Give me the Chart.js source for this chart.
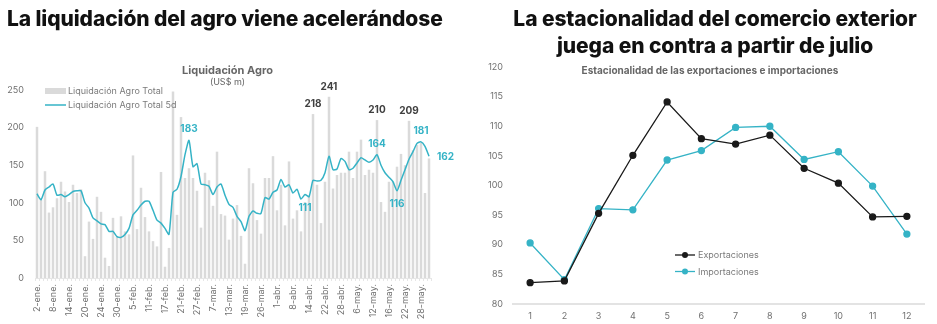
<!DOCTYPE html>
<html>
<head>
<meta charset="utf-8">
<script src="https://cdn.jsdelivr.net/npm/chart.js@4"></script>
<style>
  body { margin: 0; background: #fff; font-family: "Inter", sans-serif; }
  #wrap { position: relative; width: 937px; height: 324px; overflow: hidden; }
  .big { position: absolute; font-weight: 800; font-size: 21px; color: #111; line-height: 27px; letter-spacing: -0.1px; }
  .sub { position: absolute; font-weight: 700; color: #666; text-align: center; }
  canvas { position: absolute; top: 0; }
</style>
</head>
<body>
<div id="wrap">
  <canvas id="agroChart" width="460" height="324" style="left:0"></canvas>
  <canvas id="seasonChart" width="467" height="324" style="left:470px"></canvas>
  <div class="big" style="left:7px; top:5px;">La liquidación del agro viene acelerándose</div>
  <div class="big" style="left:460px; width:510px; top:5px; text-align:center;">La estacionalidad del comercio exterior<br>juega en contra a partir de julio</div>
  <div class="sub" style="left:170px; width:115px; top:63px; font-size:11px;">Liquidación Agro</div>
  <div class="sub" style="left:170px; width:115px; top:76px; font-size:9px; font-weight:400;">(US$ m)</div>
  <div class="sub" style="left:560px; width:300px; top:64px; font-size:10px;">Estacionalidad de las exportaciones e importaciones</div>
</div>
<script>
// Left chart: daily agro liquidation (US$ m)
const tickLabels = ["2-ene.", "8-ene.", "14-ene.", "20-ene.", "24-ene.", "30-ene.", "5-feb.", "11-feb.",
  "17-feb.", "21-feb.", "27-feb.", "7-mar.", "13-mar.", "19-mar.", "26-mar.", "1-abr.", "8-abr.",
  "14-abr.", "22-abr.", "28-abr.", "6-may.", "12-may.", "16-may.", "22-may.", "28-may."];

const agroTotal = [
  201, 104, 142, 87, 94, 106, 128, 115, 101, 124,
  113, 118, 29, 75, 52, 108, 88, 27, 16, 80,
  55, 82, 62, 58, 163, 65, 120, 81, 62, 49,
  42, 141, 15, 40, 248, 84, 214, 133, 146, 133,
  116, 67, 140, 130, 96, 168, 85, 83, 51, 79,
  97, 56, 19, 146, 126, 77, 59, 133, 133, 162,
  90, 124, 70, 155, 79, 90, 62, 101, 110, 218,
  124, 73, 128, 241, 119, 137, 140, 140, 168, 133,
  168, 184, 137, 144, 140, 210, 101, 88, 128, 128,
  148, 165, 150, 209, 170, 177, 180, 113, 159
];

const agroTotal5d = [
  112, 104, 117, 121, 125, 110, 111, 108, 111, 115,
  116, 116, 100, 93, 80, 76, 72, 71, 62, 62,
  55, 54, 58, 66, 84, 90, 97, 102, 102, 90,
  77, 73, 66, 58, 114, 118, 135, 164, 183, 148,
  152, 125, 124, 122, 111, 121, 125, 110, 98, 94,
  82, 75, 63, 82, 89, 86, 86, 107, 105, 114,
  117, 131, 121, 124, 113, 118, 105, 111, 108, 130,
  129, 130, 140, 162, 144, 145, 159, 155, 144, 146,
  153, 160, 157, 154, 157, 164, 150, 140, 134, 128,
  116, 130, 144, 158, 168, 179, 181, 175, 162
];

const barLabelIdx = [69, 73, 85, 93];
const lineLabelIdx = [38, 67, 85, 90, 96, 98];

// Right chart: seasonality index by month
const months = ["1", "2", "3", "4", "5", "6", "7", "8", "9", "10", "11", "12"];
const exportaciones = [83.6, 83.9, 95.3, 105.1, 114.1, 107.9, 107.0, 108.5, 102.9, 100.4, 94.7, 94.8];
const importaciones = [90.3, 84.1, 96.1, 95.9, 104.3, 105.9, 109.8, 110.0, 104.4, 105.7, 99.9, 91.8];

const TEAL = "#35b3c6";
const GREY_BAR = "#dadada";
const TXT = "#707070";

// one named label every 4 trading days
const categories = agroTotal.map((v, i) => (i % 4 === 0 ? tickLabels[i / 4] || "" : ""));

const lineLabelPlace = { 38: "above", 67: "below", 85: "above", 90: "below", 96: "above", 98: "right" };

const agroLabels = {
  id: "agroLabels",
  afterDatasetsDraw(chart) {
    const { ctx, scales: { x, y } } = chart;
    ctx.save();
    ctx.textAlign = "center";
    ctx.textBaseline = "middle";
    ctx.font = "bold 10px Inter";
    ctx.fillStyle = "#404040";
    barLabelIdx.forEach(i => {
      ctx.fillText(agroTotal[i], x.getPixelForValue(i), y.getPixelForValue(agroTotal[i]) - 10);
    });
    ctx.fillStyle = TEAL;
    lineLabelIdx.forEach(i => {
      const px = x.getPixelForValue(i);
      const py = y.getPixelForValue(agroTotal5d[i]);
      const where = lineLabelPlace[i];
      if (where === "above") ctx.fillText(agroTotal5d[i], px, py - 11);
      else if (where === "below") ctx.fillText(agroTotal5d[i], px, py + 13);
      else { ctx.textAlign = "left"; ctx.fillText(agroTotal5d[i], px + 8, py + 1); ctx.textAlign = "center"; }
    });
    // legend
    ctx.font = "9px Inter";
    ctx.fillStyle = GREY_BAR;
    ctx.fillRect(45, 88, 21, 6);
    ctx.strokeStyle = TEAL;
    ctx.lineWidth = 1.5;
    ctx.beginPath();
    ctx.moveTo(45, 105);
    ctx.lineTo(66, 105);
    ctx.stroke();
    ctx.fillStyle = "#7a7a7a";
    ctx.textAlign = "left";
    ctx.fillText("Liquidación Agro Total", 68, 91);
    ctx.fillText("Liquidación Agro Total 5d", 68, 105);
    ctx.restore();
  }
};

function renderAgroChart() {
  const ctx = document.getElementById("agroChart").getContext("2d");
  new Chart(ctx, {
    data: {
      labels: categories,
      datasets: [
        {
          type: "line",
          label: "Liquidación Agro Total 5d",
          data: agroTotal5d,
          borderColor: TEAL,
          borderWidth: 1.5,
          pointRadius: 0,
          tension: 0.2,
          order: 0
        },
        {
          type: "bar",
          label: "Liquidación Agro Total",
          data: agroTotal,
          backgroundColor: GREY_BAR,
          barPercentage: 0.62,
          categoryPercentage: 1,
          order: 1
        }
      ]
    },
    options: {
      responsive: false,
      animation: false,
      layout: { padding: { top: 90, right: 29, left: 0, bottom: 0 } },
      plugins: { legend: { display: false }, tooltip: { enabled: false } },
      scales: {
        x: {
          grid: { display: true, drawOnChartArea: false, tickLength: 3, color: "#e6e6e6" },
          border: { display: true, color: "#e6e6e6" },
          ticks: { autoSkip: false, minRotation: 90, maxRotation: 90, padding: 3, color: TXT, font: { size: 9, family: "Inter" } },
          afterFit: s => { s.height = 46; }
        },
        y: {
          min: 0,
          max: 250,
          grid: { display: false, drawTicks: false },
          border: { display: false },
          ticks: { stepSize: 50, padding: 11, color: TXT, font: { size: 9, family: "Inter" } },
          afterFit: s => { s.width = 35; }
        }
      }
    },
    plugins: [agroLabels]
  });
}

const seasonLegend = {
  id: "seasonLegend",
  afterDraw(chart) {
    const { ctx } = chart;
    const items = [["Exportaciones", "#1a1a1a", 255], ["Importaciones", TEAL, 271.5]];
    ctx.save();
    ctx.font = "9px Inter";
    ctx.textBaseline = "middle";
    items.forEach(([name, color, yy]) => {
      ctx.strokeStyle = color;
      ctx.fillStyle = color;
      ctx.lineWidth = 1.3;
      ctx.beginPath();
      ctx.moveTo(205, yy);
      ctx.lineTo(225, yy);
      ctx.stroke();
      ctx.beginPath();
      ctx.arc(215, yy, 3, 0, Math.PI * 2);
      ctx.fill();
      ctx.fillStyle = "#7a7a7a";
      ctx.fillText(name, 228, yy + 0.5);
    });
    ctx.restore();
  }
};

function renderSeasonChart() {
  const ctx = document.getElementById("seasonChart").getContext("2d");
  new Chart(ctx, {
    type: "line",
    data: {
      labels: months,
      datasets: [
        {
          label: "Exportaciones",
          data: exportaciones,
          borderColor: "#1a1a1a",
          backgroundColor: "#1a1a1a",
          borderWidth: 1.3,
          pointRadius: 3,
          tension: 0
        },
        {
          label: "Importaciones",
          data: importaciones,
          borderColor: TEAL,
          backgroundColor: TEAL,
          borderWidth: 1.3,
          pointRadius: 3,
          tension: 0
        }
      ]
    },
    options: {
      responsive: false,
      animation: false,
      layout: { padding: { top: 67, right: 13, left: 0, bottom: 0 } },
      plugins: { legend: { display: false }, tooltip: { enabled: false } },
      scales: {
        x: {
          offset: true,
          grid: { display: false, drawTicks: false },
          border: { display: true, color: "#e3e3e3", width: 2 },
          ticks: { padding: 7, color: TXT, font: { size: 9, family: "Inter" } },
          afterFit: s => { s.height = 20; }
        },
        y: {
          min: 80,
          max: 120,
          grid: { display: false, drawTicks: false },
          border: { display: false },
          ticks: { stepSize: 5, padding: 10, color: TXT, font: { size: 9, family: "Inter" } },
          afterFit: s => { s.width = 43; }
        }
      }
    },
    plugins: [seasonLegend]
  });
}

document.addEventListener("DOMContentLoaded", () => {
  renderAgroChart();
  renderSeasonChart();
});
</script>
</body>
</html>
